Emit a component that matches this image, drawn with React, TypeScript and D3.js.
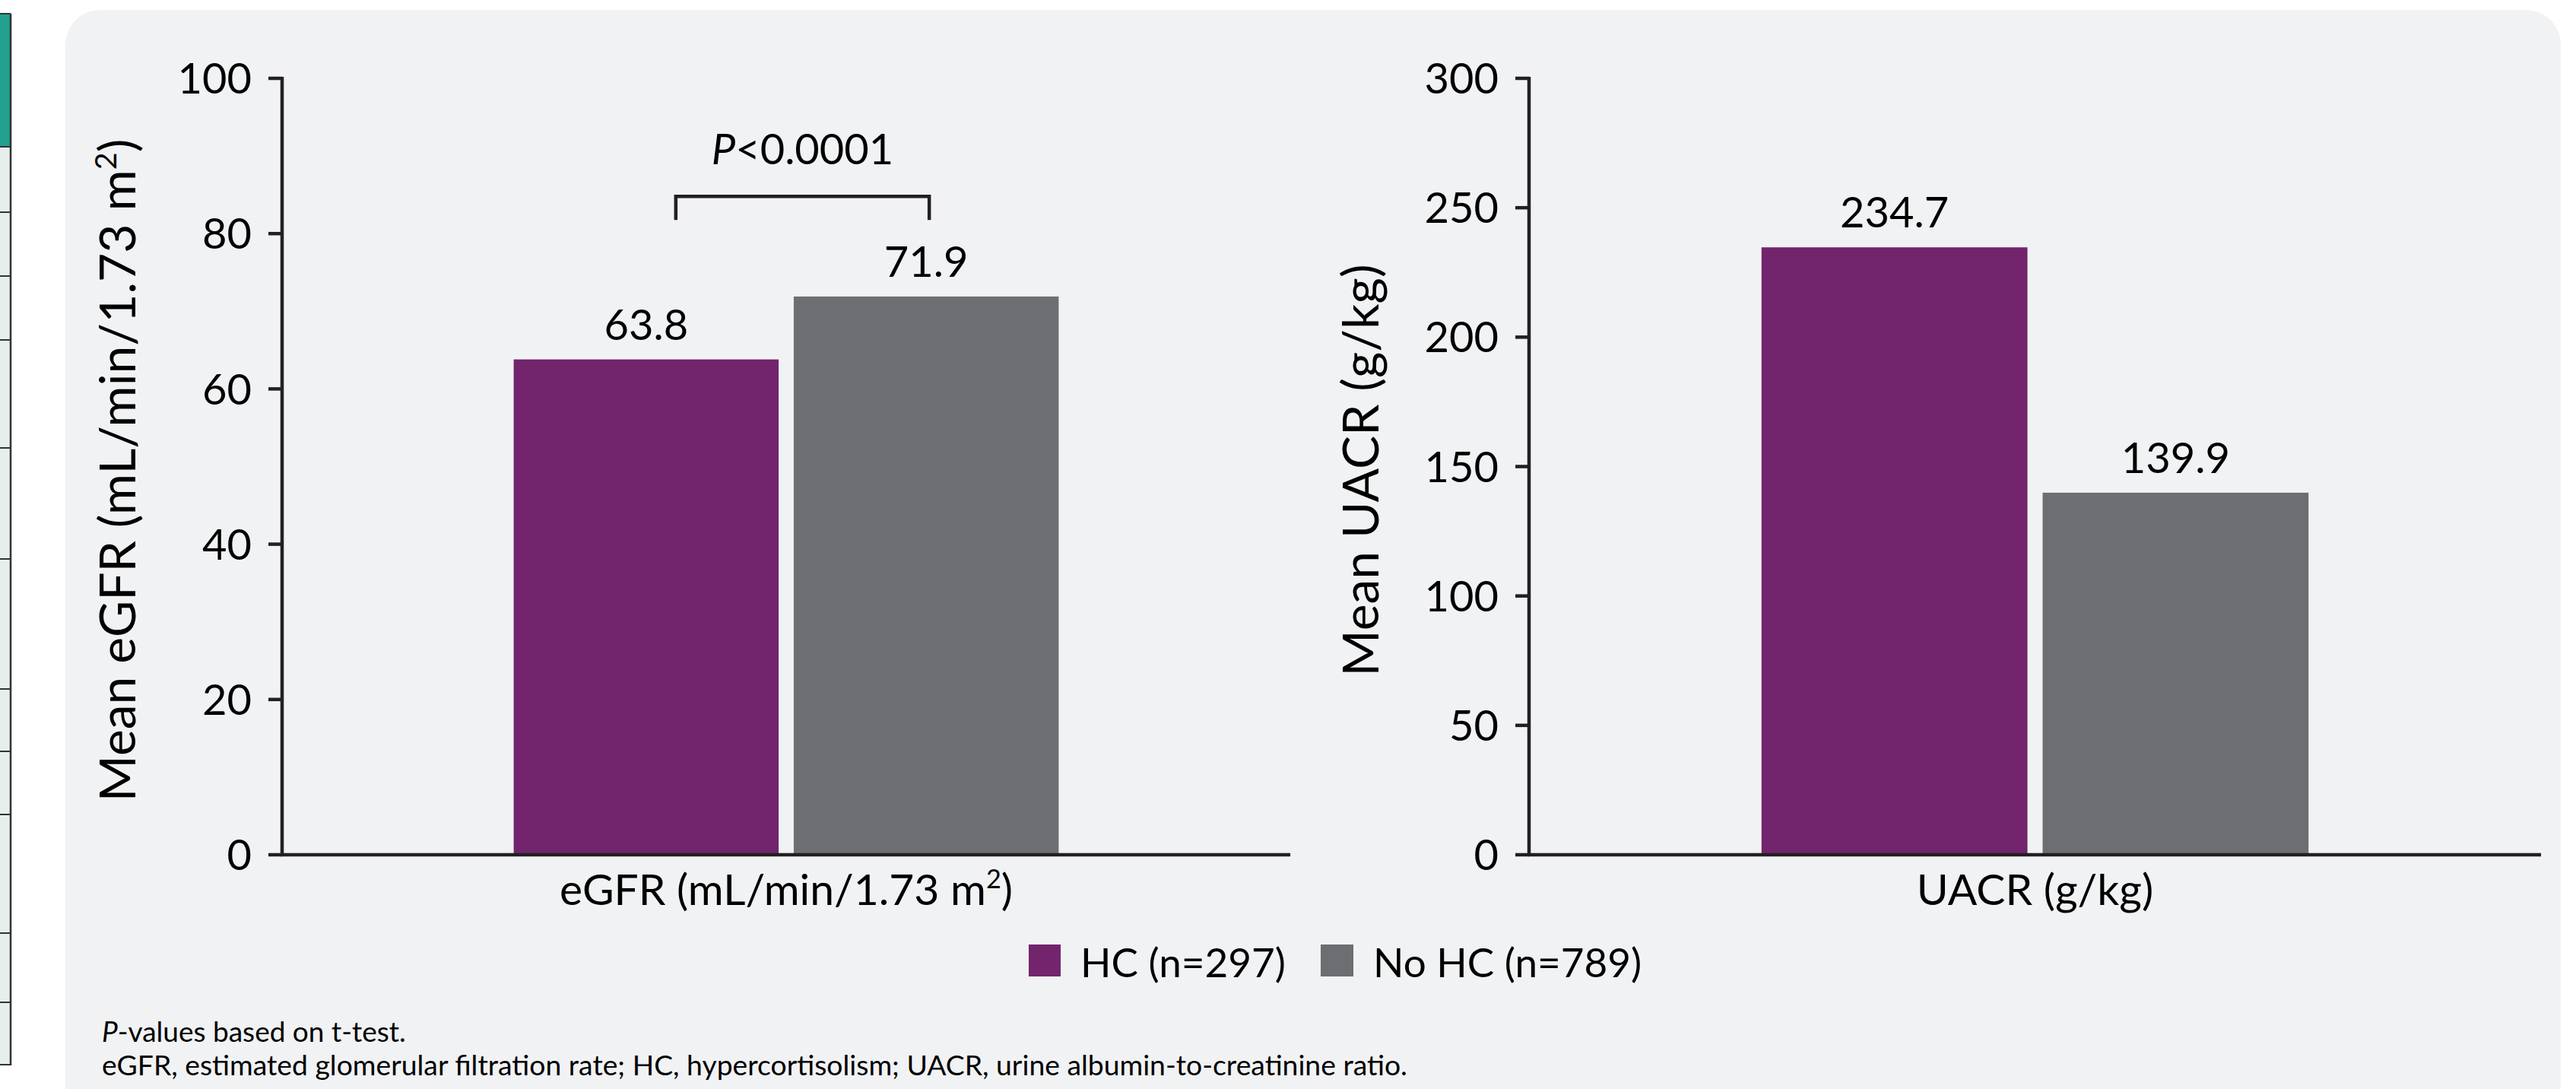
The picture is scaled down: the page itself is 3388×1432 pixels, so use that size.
import React from "react";
import * as d3 from "d3";

const groups = ["HC (n=297)", "No HC (n=789)"];
const groupColors = ["#72246c", "#6d6e71"];
const egfrCategory = ["eGFR"];
const egfrValues = [63.8, 71.9];
const egfrTicks = [0, 20, 40, 60, 80, 100];
const uacrCategory = ["UACR"];
const uacrValues = [234.7, 139.9];
const uacrTicks = [0, 50, 100, 150, 200, 250, 300];
const pLabel = "<0.0001";
const footnote1 = "-values based on t-test.";
const footnote2 =
  "eGFR, estimated glomerular filtration rate; HC, hypercortisolism; UACR, urine albumin-to-creatinine ratio.";

const W = 3388;
const H = 1432;
const FONT = "Lato, 'Noto Sans', sans-serif";
const INK = "#231f20";

type PanelProps = {
  x0: number;
  x1: number;
  yMax: number;
  ticks: number[];
  values: number[];
  category: string[];
  xLabel: React.ReactNode;
  yLabel: React.ReactNode;
  yLabelX: number;
  pValue?: boolean;
};

const yTop = 103;
const yBottom = 1124;

function Panel({ x0, x1, yMax, ticks, values, category, xLabel, yLabel, yLabelX, pValue }: PanelProps) {
  const y = d3.scaleLinear().domain([0, yMax]).range([yBottom, yTop]);
  const outer = d3.scaleBand<string>().domain(category).range([x0, x1]).paddingOuter(0.425).paddingInner(0);
  const inner = d3.scaleBand<string>().domain(groups).range([0, outer.bandwidth()]).paddingInner(0.054).paddingOuter(0);
  const cx = outer(category[0]) as number;
  const centers = groups.map((g) => cx + (inner(g) as number) + inner.bandwidth() / 2);
  const bracketY = y(yMax * 0.85) + 2;
  return (
    <g>
      {groups.map((g, i) => (
        <rect
          key={g}
          x={cx + (inner(g) as number)}
          y={y(values[i])}
          width={inner.bandwidth()}
          height={yBottom - y(values[i])}
          fill={groupColors[i]}
        />
      ))}
      {groups.map((g, i) => (
        <text
          key={"v" + g}
          x={centers[i]}
          y={y(values[i]) - 26}
          textAnchor="middle"
          fontSize={56}
          fontFamily={FONT}
          fill="#000"
        >
          {values[i].toFixed(1)}
        </text>
      ))}
      <line x1={x0} x2={x0} y1={yTop - 2} y2={yBottom + 2} stroke={INK} strokeWidth={4.5} />
      <line x1={x0 - 2} x2={x1} y1={yBottom} y2={yBottom} stroke={INK} strokeWidth={4.5} />
      {ticks.map((t) => (
        <g key={t}>
          <line x1={x0 - 18} x2={x0} y1={y(t)} y2={y(t)} stroke={INK} strokeWidth={4.5} />
          <text
            x={x0 - 40}
            y={y(t)}
            dy="0.36em"
            textAnchor="end"
            fontSize={56}
            fontFamily={FONT}
            fill="#000"
          >
            {t}
          </text>
        </g>
      ))}
      <text
        x={(x0 + x1) / 2}
        y={1190}
        textAnchor="middle"
        fontSize={57}
        fontFamily={FONT}
        fill="#000"
      >
        {xLabel}
      </text>
      <text
        transform={`translate(${yLabelX},${(yTop + yBottom) / 2 + 5}) rotate(-90)`}
        textAnchor="middle"
        fontSize={66}
        fontFamily={FONT}
        fill="#000"
      >
        {yLabel}
      </text>
      {pValue && (
        <g>
          <path
            d={`M${centers[0] + 39},${bracketY + 31} V${bracketY} H${centers[1] + 4} V${bracketY + 31}`}
            fill="none"
            stroke={INK}
            strokeWidth={4.5}
          />
          <text
            x={(centers[0] + 39 + centers[1] + 4) / 2}
            y={216}
            textAnchor="middle"
            fontSize={56}
            fontFamily={FONT}
            fill="#000"
          >
            <tspan fontStyle="italic">P</tspan>
            {pLabel}
          </text>
        </g>
      )}
    </g>
  );
}

function Sup({ base, sup, size }: { base: string; sup: string; size: number }) {
  return (
    <>
      {base}
      <tspan dy={-size * 0.38} fontSize={size * 0.6}>
        {sup}
      </tspan>
      <tspan dy={size * 0.38}>)</tspan>
    </>
  );
}

export default function App() {
  const stripLines = [193, 279, 363, 447, 589, 735, 906, 988, 1071, 1227, 1318, 1400];
  return (
    <svg
      width={W}
      height={H}
      style={{ position: "absolute", left: 0, top: 0, display: "block" }}
      xmlns="http://www.w3.org/2000/svg"
    >
      <rect x={0} y={0} width={W} height={H} fill="#ffffff" />
      <rect x={0} y={18} width={14} height={1382} fill="#e7efee" />
      <rect x={0} y={18} width={14} height={175} fill="#22a090" />
      {stripLines.map((ly) => (
        <line key={ly} x1={0} x2={14} y1={ly} y2={ly} stroke="#333" strokeWidth={2} />
      ))}
      <line x1={14} x2={14} y1={18} y2={1401} stroke="#333" strokeWidth={2.5} />
      <line x1={0} x2={14} y1={18} y2={18} stroke="#333" strokeWidth={2} />
      <rect x={86} y={13} width={3282} height={1460} rx={46} ry={46} fill="#f1f2f4" />

      <Panel
        x0={371}
        x1={1697}
        yMax={100}
        ticks={egfrTicks}
        values={egfrValues}
        category={egfrCategory}
        xLabel={<Sup base="eGFR (mL/min/1.73 m" sup="2" size={57} />}
        yLabel={<Sup base="Mean eGFR (mL/min/1.73 m" sup="2" size={66} />}
        yLabelX={178}
        pValue
      />
      <Panel
        x0={2011}
        x1={3342}
        yMax={300}
        ticks={uacrTicks}
        values={uacrValues}
        category={uacrCategory}
        xLabel={"UACR (g/kg)"}
        yLabel={"Mean UACR (g/kg)"}
        yLabelX={1813}
      />

      <g>
        <rect x={1353} y={1242} width={42} height={42} fill={groupColors[0]} />
        <text x={1421} y={1285} fontSize={53} fontFamily={FONT} fill="#000">
          {groups[0]}
        </text>
        <rect x={1737} y={1242} width={43} height={42} fill={groupColors[1]} />
        <text x={1806} y={1285} fontSize={53} fontFamily={FONT} fill="#000">
          {groups[1]}
        </text>
      </g>

      <text x={134} y={1370} fontSize={37} fontFamily={FONT} fill="#000">
        <tspan fontStyle="italic">P</tspan>
        {footnote1}
      </text>
      <text x={134} y={1414} fontSize={37.3} fontFamily={FONT} fill="#000">
        {footnote2}
      </text>
    </svg>
  );
}
